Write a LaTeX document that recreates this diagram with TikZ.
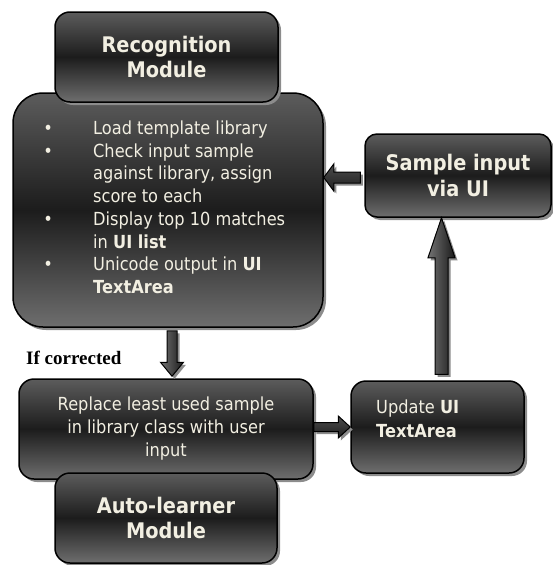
\documentclass[tikz,border=0pt]{standalone}
\usepackage{fontspec}
\setmainfont{DejaVu Sans}[FakeStretch=0.9]
\newfontfamily\serifb{Liberation Serif}
\usetikzlibrary{calc,shadows}
\definecolor{txt}{HTML}{F2EFE2}
\definecolor{shd}{HTML}{8C8C8C}
\definecolor{boxtop}{HTML}{5C5C5C}
\definecolor{boxmid}{HTML}{1C1C1C}
\definecolor{boxbot}{HTML}{6E6E6E}
\tikzset{
  box/.style={draw=black, line width=1.5pt, rounded corners=#1,
    top color=boxtop, bottom color=boxbot, middle color=boxmid,
    inner sep=0pt, text=txt,
    drop shadow={shadow xshift=3pt, shadow yshift=-3pt, fill=shd, opacity=1}},
  headfont/.style={font=\fontsize{21.5}{25.5}\selectfont\bfseries, align=center},
  bodyfont/.style={font=\fontsize{18}{23}\selectfont},
  arr/.style={draw=black, line width=1pt, line join=miter,
    drop shadow={shadow xshift=2.5pt, shadow yshift=-2.5pt, fill=shd, opacity=1}},
  varr/.style={arr, left color=black!55, right color=black!90},
  harr/.style={arr, top color=black!70, bottom color=black!88},
}
% tail, tip, shaft half width, head half width, head length
\newcommand\blockarr[6][]{%
  \coordinate (ba-h) at ($(#3)!#6!(#2)$);
  \draw[#1] ($(#2)!#4!90:(#3)$) -- ($(ba-h)!#4!-90:(#2)$) -- ($(ba-h)!#5!-90:(#2)$)
    -- (#3) -- ($(ba-h)!#5!90:(#2)$) -- ($(ba-h)!#4!90:(#2)$) -- ($(#2)!#4!-90:(#3)$) -- cycle;}
\begin{document}
\begin{tikzpicture}[x=1pt,y=-1pt]
\useasboundingbox (0,0) rectangle (552,565);

% Recognition module
\node[box=30pt, minimum width=310pt, minimum height=234pt] (body) at (168,210) {};
\node[box=15pt, minimum width=223pt, minimum height=90pt, headfont] (rec) at (166.5,57) {Recognition\\Module};
\node[anchor=base west, inner sep=0pt, text=txt, bodyfont] (bul) at (43,134.5)
 {\fontsize{18}{22.7}\selectfont
  \begin{tabular}[t]{@{}l@{\hspace{40pt}}l@{}}
  \makebox[10pt]{•} & Load template library\\
  \makebox[10pt]{•} & Check input sample\\
   & against library, assign\\
   & score to each\\
  \makebox[10pt]{•} & Display top 10 matches\\
   & in \textbf{UI list}\\
  \makebox[10pt]{•} & Unicode output in \textbf{UI}\\
   & \textbf{TextArea}
  \end{tabular}};

% Sample input
\node[box=12pt, minimum width=186pt, minimum height=83pt, headfont] (samp) at (458,175.5) {Sample input\\via UI};

% Auto-learner module
\node[box=15pt, minimum width=294pt, minimum height=100pt, bodyfont, align=center] (repl) at (166,429)
  {Replace least used sample\\in library class with user\\input};
\node[box=15pt, minimum width=222pt, minimum height=90pt, headfont] (auto) at (166,518) {Auto-learner\\Module};

% Update
\node[box=15pt, minimum width=173pt, minimum height=92pt] (upd) at (437.5,427) {};
\node[anchor=west, inner sep=0pt, align=left, text=txt, font=\fontsize{18}{24}\selectfont] (updt) at (376,419)
  {Update \textbf{UI}\\\textbf{TextArea}};

% label
\node[anchor=west, inner sep=0pt, font=\serifb\bfseries\fontsize{19}{22}\selectfont] (ifc) at (26,358) {If corrected};

% arrows
\coordinate (t1) at ($(samp.west)+(-4,2)$);
\coordinate (p1) at (body.east |- t1);
\blockarr[harr]{t1}{p1}{5.5pt}{13.5pt}{10pt}

\coordinate (t2) at ($(upd.north)+(4,-6)$);
\coordinate (p2) at (t2 |- samp.south);
\blockarr[varr]{t2}{p2}{6.5pt}{13.5pt}{40pt}

\coordinate (t3) at ($(body.south)+(4,3)$);
\coordinate (p3) at ($(t3 |- repl.north)+(0,-2)$);
\blockarr[varr]{t3}{p3}{5pt}{11.5pt}{14pt}

\coordinate (t4) at ($(repl.east)+(0,-2)$);
\coordinate (p4) at (upd.west |- t4);
\blockarr[harr]{t4}{p4}{4.5pt}{11pt}{12pt}
\end{tikzpicture}
\end{document}
